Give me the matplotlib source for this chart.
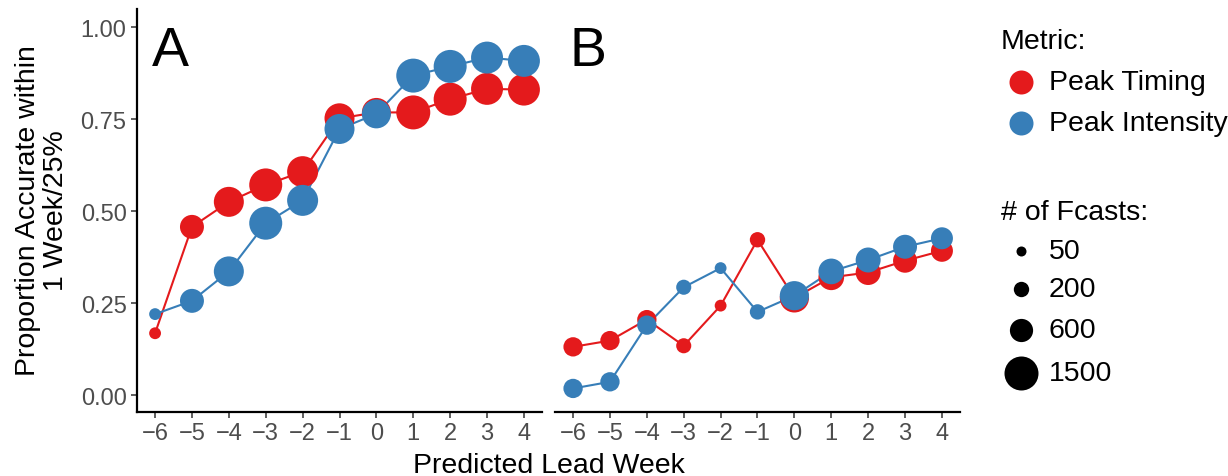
import matplotlib.pyplot as plt
import numpy as np

plt.rcParams['font.family'] = ['Liberation Sans', 'DejaVu Sans']

lead_weeks = [-6, -5, -4, -3, -2, -1, 0, 1, 2, 3, 4]

# A: proportion accurate per predicted lead week
timing_a = [0.168, 0.457, 0.525, 0.571, 0.607, 0.752, 0.768, 0.768, 0.804, 0.832, 0.830]
intensity_a = [0.220, 0.256, 0.336, 0.467, 0.529, 0.723, 0.764, 0.868, 0.893, 0.917, 0.908]
n_fcasts_a = [90, 650, 1120, 1400, 1210, 1120, 1030, 1500, 1400, 1300, 1300]

# B
timing_b = [0.131, 0.148, 0.205, 0.134, 0.243, 0.422, 0.264, 0.320, 0.333, 0.365, 0.392]
intensity_b = [0.018, 0.036, 0.190, 0.293, 0.345, 0.226, 0.270, 0.336, 0.367, 0.403, 0.426]
n_fcasts_b = [375, 375, 375, 190, 90, 200, 1050, 770, 720, 650, 525]

metrics = ['Peak Timing', 'Peak Intensity']
colors = ['#E41A1C', '#377EB8']
size_breaks = [50, 200, 600, 1500]

DPI = 100
W, H = 1228, 477
TITLE_SIZE = 20.5


def diam_px(n):
    # point diameter grows with sqrt of the forecast count
    return 4.64 + 0.758 * np.sqrt(np.asarray(n, dtype=float))


def area(n):
    return (diam_px(n) * 72.0 / DPI) ** 2


fig = plt.figure(figsize=(W / DPI, H / DPI), dpi=DPI)
ax_a = fig.add_axes([137 / W, 64 / H, 405 / W, 403 / H])
ax_b = fig.add_axes([555 / W, 64 / H, 405 / W, 403 / H])

tick_col = '#4D4D4D'
panels = [(ax_a, 'A', timing_a, intensity_a, n_fcasts_a),
          (ax_b, 'B', timing_b, intensity_b, n_fcasts_b)]

for ax, tag, tim, inten, n in panels:
    series = [tim, inten]
    for vals, col in zip(series, colors):
        ax.plot(lead_weeks, vals, color=col, lw=1.5, zorder=2, solid_capstyle='butt')
    for vals, col in zip(series, colors):
        ax.scatter(lead_weeks, vals, s=area(n), color=col, linewidths=0, zorder=3)

    ax.set_xlim(-6.49, 4.49)
    ax.set_ylim(-0.046, 1.049)
    ax.set_xticks(lead_weeks)
    ax.set_yticks([0, 0.25, 0.5, 0.75, 1.0])
    ax.set_yticklabels(['0.00', '0.25', '0.50', '0.75', '1.00'])
    for side in ['top', 'right']:
        ax.spines[side].set_visible(False)
    for side in ['left', 'bottom']:
        ax.spines[side].set_linewidth(1.6)
    ax.tick_params(axis='both', length=4.5, width=1.1, color='#333333',
                   labelsize=17, labelcolor=tick_col, pad=3)
    ax.text(0.036, 0.86, tag, transform=ax.transAxes, fontsize=40,
            ha='left', va='baseline', color='black')

ax_b.spines['left'].set_visible(False)
ax_b.tick_params(axis='y', left=False, labelleft=False)

fig.text((137 + 960) / 2 / W, 1 - 473 / H, 'Predicted Lead Week',
         ha='center', va='baseline', fontsize=TITLE_SIZE)
fig.text(42 / W, 1 - 211 / H, 'Proportion Accurate within\n1 Week/25%',
         ha='center', va='center', rotation=90, fontsize=TITLE_SIZE,
         multialignment='center', linespacing=1.12)

# legends drawn on an overlay in pixel units
leg = fig.add_axes([0, 0, 1, 1])
leg.set_xlim(0, W)
leg.set_ylim(H, 0)
leg.axis('off')

leg.text(1001, 42, 'Metric:', fontsize=TITLE_SIZE, ha='left', va='center')
for i, (lab, col) in enumerate(zip(metrics, colors)):
    y = 83 + 41 * i
    leg.scatter([1021], [y], s=(24 * 0.72) ** 2, color=col, linewidths=0)
    leg.text(1049, y, lab, fontsize=TITLE_SIZE, ha='left', va='center')

leg.text(1001, 213, '# of Fcasts:', fontsize=TITLE_SIZE, ha='left', va='center')
size_rows = [252, 290, 331, 374]
for y, b in zip(size_rows, size_breaks):
    leg.scatter([1021], [y], s=area(b), color='black', linewidths=0)
    leg.text(1049, y, str(b), fontsize=TITLE_SIZE, ha='left', va='center')

fig.savefig('out.png', dpi=DPI)
